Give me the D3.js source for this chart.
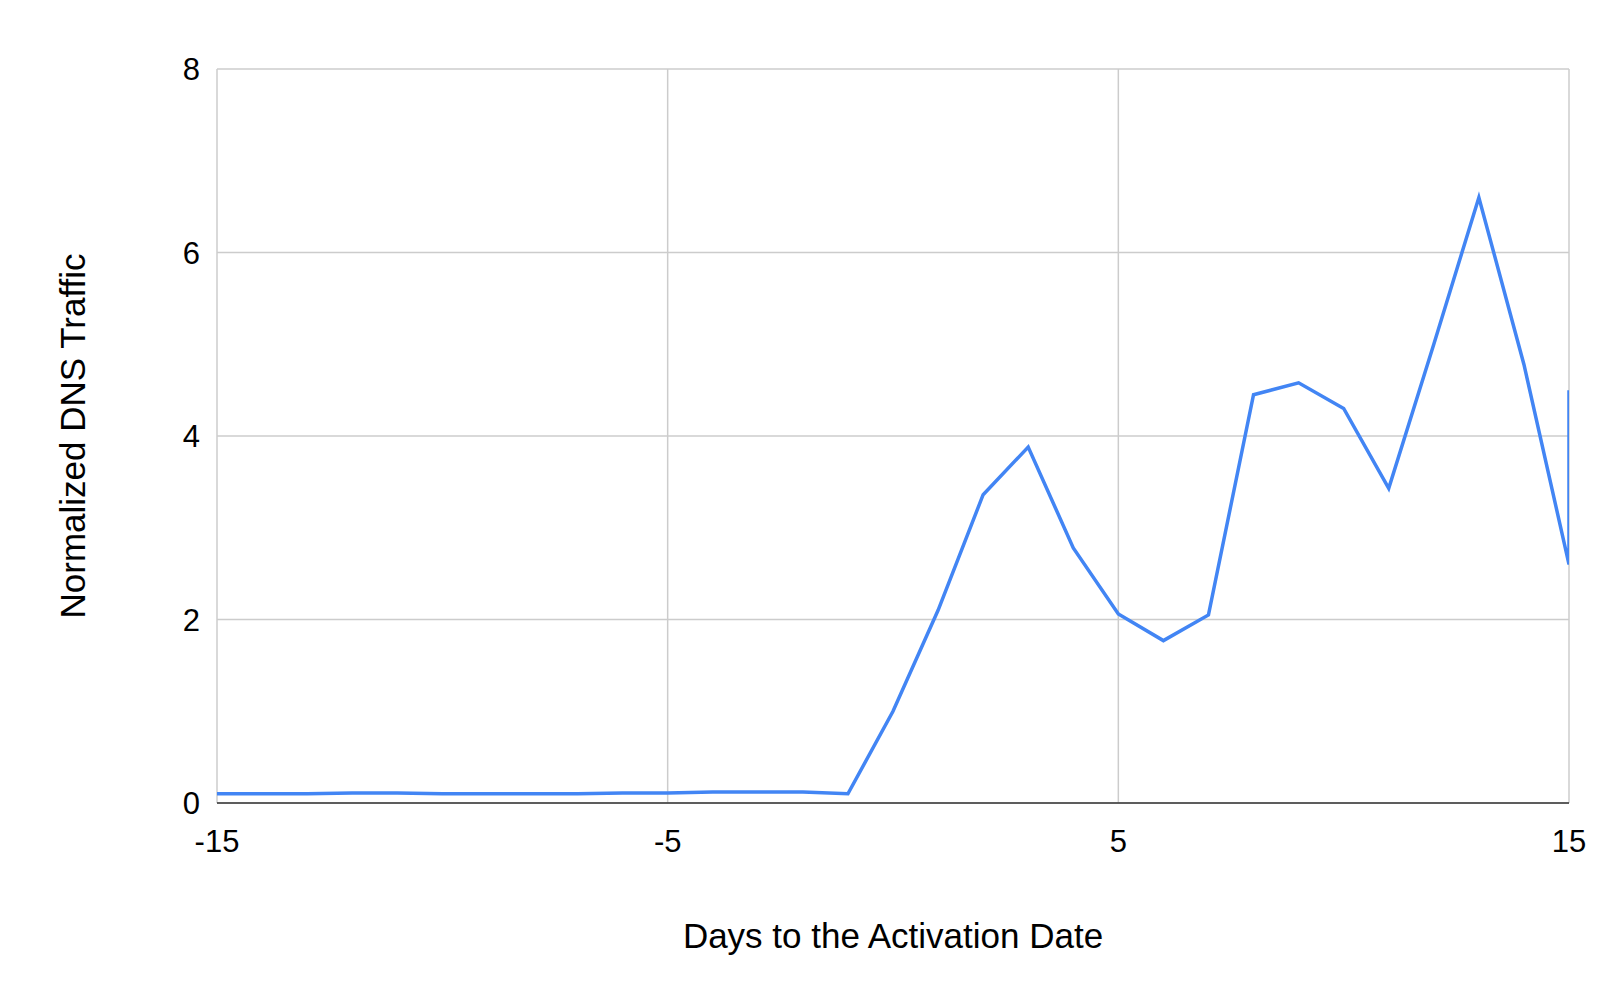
<!DOCTYPE html>
<html><head><meta charset="utf-8">
<script src="https://cdn.jsdelivr.net/npm/d3@7"></script>
<style>body{margin:0;background:#fff}text{font-family:"Liberation Sans",Arial,sans-serif}</style>
</head><body><svg id="c" width="1620" height="1002"></svg>
<script>
const days = [-15,-14,-13,-12,-11,-10,-9,-8,-7,-6,-5,-4,-3,-2,-1,0,1,2,3,4,5,6,7,8,9,10,11,12,13,14,15,15];
const traffic = [0.1,0.1,0.1,0.11,0.11,0.1,0.1,0.1,0.1,0.11,0.11,0.12,0.12,0.12,0.1,1.0,2.1,3.36,3.88,2.78,2.06,1.77,2.05,4.45,4.58,4.3,3.43,5.0,6.6,4.78,2.6,4.5];
const xTicks = [-15,-5,5,15];
const yTicks = [0,2,4,6,8];
const m = {l:217, r:1569, t:69, b:803};
const svg = d3.select("#c");
const x = d3.scaleLinear().domain([-15,15]).range([m.l,m.r]);
const y = d3.scaleLinear().domain([0,8]).range([m.b,m.t]);
const g = svg.append("g");
g.selectAll(".hg").data(yTicks).join("line").attr("x1",m.l).attr("x2",m.r)
 .attr("y1",d=>y(d)).attr("y2",d=>y(d)).attr("stroke","#cccccc").attr("stroke-width",1.5);
g.selectAll(".vg").data(xTicks).join("line").attr("y1",m.t).attr("y2",m.b)
 .attr("x1",d=>x(d)).attr("x2",d=>x(d)).attr("stroke","#cccccc").attr("stroke-width",1.5);
g.append("line").attr("x1",m.l).attr("x2",m.r).attr("y1",y(0)).attr("y2",y(0)).attr("stroke","#333").attr("stroke-width",1.5);
g.selectAll(".yl").data(yTicks).join("text").attr("x",m.l-17).attr("y",d=>y(d)+11)
 .attr("text-anchor","end").attr("font-size",31).attr("fill","#000").text(d=>d);
g.selectAll(".xl").data(xTicks).join("text").attr("x",d=>x(d)).attr("y",m.b+49)
 .attr("text-anchor","middle").attr("font-size",31).attr("fill","#000").text(d=>d);
svg.append("defs").append("clipPath").attr("id","cp").append("rect")
 .attr("x",m.l).attr("y",m.t-20).attr("width",m.r-m.l).attr("height",m.b-m.t+40);
const pts = days.map((d,i)=>[d,traffic[i]]);
svg.append("path").datum(pts).attr("clip-path","url(#cp)")
 .attr("d",d3.line().x(d=>x(d[0])).y(d=>y(d[1])))
 .attr("fill","none").attr("stroke","#4285f4").attr("stroke-width",3.5).attr("stroke-linejoin","miter");
svg.append("text").attr("x",(m.l+m.r)/2).attr("y",948).attr("text-anchor","middle")
 .attr("font-size",35).text("Days to the Activation Date");
svg.append("text").attr("transform",`translate(85,${(m.t+m.b)/2}) rotate(-90)`).attr("text-anchor","middle")
 .attr("font-size",35).text("Normalized DNS Traffic");
</script></body></html>
